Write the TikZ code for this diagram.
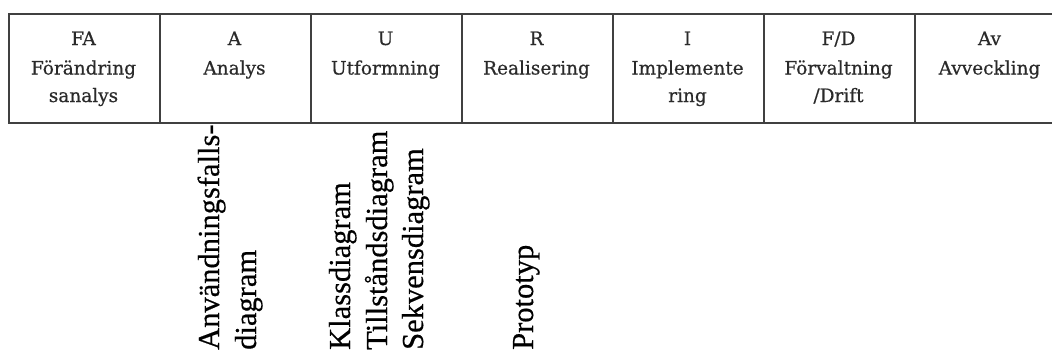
\documentclass[tikz,border=0pt]{standalone}
\usepackage{fontspec}
\setmainfont{Liberation Serif}
\newfontfamily\cellfont[FakeBold=0.6]{DejaVu Serif}
\newfontfamily\modelfont[FakeBold=0.5]{Liberation Serif}
\definecolor{rule}{HTML}{404040}
\definecolor{celltext}{HTML}{2a2a2a}
\tikzset{
  phasecell/.style={draw=rule, line width=2pt, minimum width=151pt, minimum height=109pt, inner sep=0pt, anchor=north west},
  phaseline/.style={anchor=base, inner sep=0pt, text=celltext, font=\cellfont\fontsize{18.5}{22}\selectfont},
  modelline/.style={rotate=90, anchor=base west, inner sep=0pt, font=\modelfont\fontsize{30.5}{36}\selectfont}
}
\begin{document}
\begin{tikzpicture}[x=1pt, y=-1pt]
\useasboundingbox (0,0) rectangle (1052,354);
\clip (0,0) rectangle (1052,354);

% phase table
\foreach \i/\a/\b/\c in {0/FA/Förändring/sanalys, 1/A/Analys/, 2/U/Utformning/,
    3/R/Realisering/, 4/I/Implemente/ring, 5/F\slash D/Förvaltning/\slash Drift, 6/Av/Avveckling/} {
  \node[phasecell] (cell\i) at ({8+151*\i},13) {};
  \node[phaseline] (head\i) at ({8+151*\i+75.5},45) {\a};
  \node[phaseline] (name\i) at ({8+151*\i+75.5},74.5) {\b};
  \node[phaseline] (more\i) at ({8+151*\i+75.5},102) {\c};
}

% models produced in each phase
\node[modelline] (m1a) at (219,350) {Användningsfalls-};
\node[modelline] (m1b) at (256,350) {diagram};
\node[modelline] (m2a) at (350,350) {Klassdiagram};
\node[modelline] (m2b) at (387,350) {Tillståndsdiagram};
\node[modelline] (m2c) at (423,350) {Sekvensdiagram};
\node[modelline] (m3a) at (533,350) {Prototyp};
\end{tikzpicture}
\end{document}
